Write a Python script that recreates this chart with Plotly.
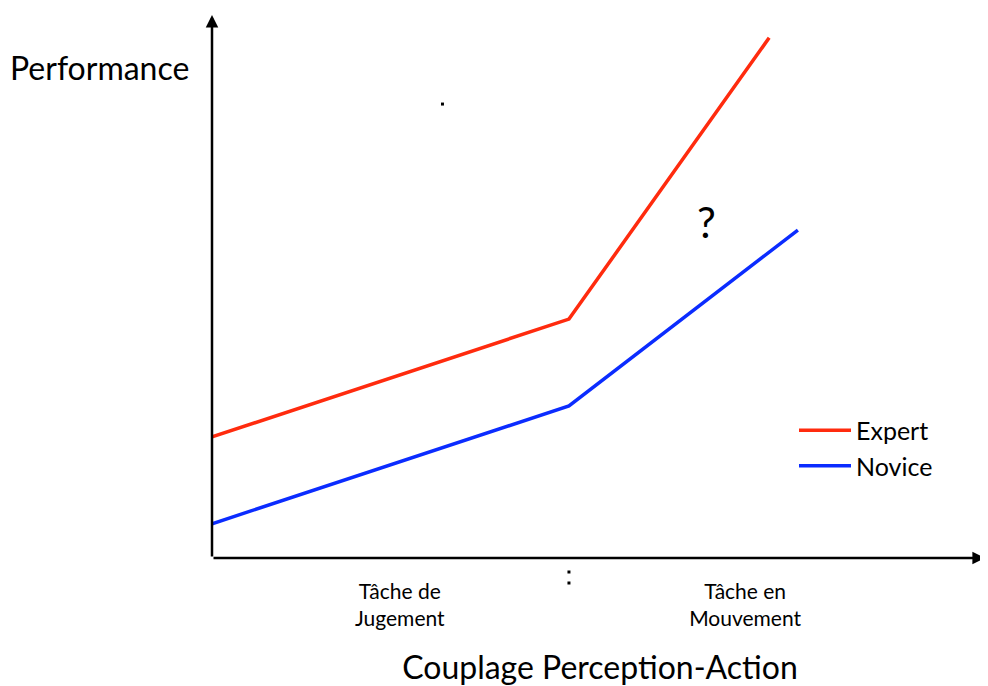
import plotly.graph_objects as go

# Data (abstract units: x 0..10, y 0..10)
phase_x_expert = [0, 4.6, 7.18]
expert_perf = [2.23, 4.40, 9.58]
phase_x_novice = [0, 4.6, 7.55]
novice_perf = [0.63, 2.80, 6.04]
series_names = ["Expert", "Novice"]
tick_positions = [2.42, 6.87]
tick_labels = ["Tâche de<br>Jugement", "Tâche en<br>Mouvement"]
divider_x = 4.6
stray_dot_x = [2.97]
stray_dot_y = [8.36]

X_RANGE = [0, 10]
FONT = "Lato"
RED = "#FF2B0E"
BLUE = "#0B2CFF"

fig = go.Figure()
fig.add_trace(go.Scatter(x=phase_x_expert, y=expert_perf, mode="lines", name=series_names[0],
                         line=dict(color=RED, width=3.5)))
fig.add_trace(go.Scatter(x=phase_x_novice, y=novice_perf, mode="lines", name=series_names[1],
                         line=dict(color=BLUE, width=3.5)))
fig.add_trace(go.Scatter(x=stray_dot_x, y=stray_dot_y, mode="markers",
                         marker=dict(color="black", size=3, symbol="square"),
                         showlegend=False, hoverinfo="skip"))

# divider dots below the axis (paper refs so they are not clipped)
div_paper = (divider_x - X_RANGE[0]) / (X_RANGE[1] - X_RANGE[0])
for off in (14, 25):
    fig.add_shape(type="rect", xref="paper", yref="paper", xsizemode="pixel", ysizemode="pixel",
                  xanchor=div_paper, yanchor=0, x0=-1.5, x1=1.5, y0=-off - 1.5, y1=-off + 1.5,
                  fillcolor="black", line=dict(width=0))

# axes arrows
fig.add_annotation(x=0, y=10, ax=0, ay=0, xref="x", yref="y", axref="x", ayref="y",
                   text="", showarrow=True, arrowhead=2, arrowsize=1, arrowwidth=2.5, arrowcolor="black")
fig.add_annotation(x=9.96, y=0, ax=0, ay=0, xref="x", yref="y", axref="x", ayref="y",
                   text="", showarrow=True, arrowhead=2, arrowsize=1, arrowwidth=2.5, arrowcolor="black")

fig.add_annotation(x=-0.263, y=0.904, xref="paper", yref="paper", text="Performance", showarrow=False,
                   xanchor="left", yanchor="middle", font=dict(family=FONT, size=32, color="black"))
fig.add_annotation(x=6.37, y=6.18, xref="x", yref="y", text="?", showarrow=False,
                   xanchor="center", yanchor="middle", font=dict(family=FONT, size=42, color="black"))

fig.update_layout(
    width=980, height=678,
    margin=dict(l=204, r=0, t=7, b=128, autoexpand=False),
    plot_bgcolor="white", paper_bgcolor="white",
    font=dict(family=FONT, color="black"),
    showlegend=True,
    legend=dict(x=0.750, y=0.277, xanchor="left", yanchor="top", bgcolor="rgba(0,0,0,0)",
                font=dict(family=FONT, size=25, color="black"), tracegroupgap=0, itemwidth=52),
    xaxis=dict(range=X_RANGE, showgrid=False, zeroline=False, showline=False,
               tickvals=tick_positions, ticktext=tick_labels, ticks="", ticklabelstandoff=19,
               tickfont=dict(family=FONT, size=21, color="black"),
               title=dict(text="Couplage Perception-Action", font=dict(family=FONT, size=32, color="black"),
                          standoff=27)),
    yaxis=dict(range=[0, 10], showgrid=False, zeroline=False, showline=False, showticklabels=False,
               ticks=""),
)

fig.write_html("out.html")
